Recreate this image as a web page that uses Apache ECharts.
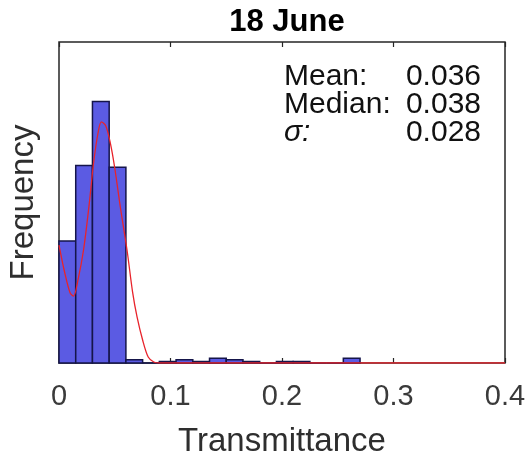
<!DOCTYPE html>
<html>
<head>
<meta charset="utf-8">
<script src="https://cdn.jsdelivr.net/npm/echarts@6/dist/echarts.min.js"></script>
<style>html,body{margin:0;padding:0;background:#fff;}#c{width:531px;height:459px;}</style>
</head>
<body>
<div id="c"></div>
<script>
// ---- data ----
var titleText = '18 June';
var xName = 'Transmittance';
var yName = 'Frequency';
var binWidth = 0.015;
var binLefts = [0, 0.015, 0.03, 0.045, 0.06, 0.075, 0.09, 0.105, 0.12, 0.135, 0.15, 0.165, 0.18, 0.195, 0.21, 0.225, 0.24, 0.255];
var binCounts = [76, 123, 163, 122, 2, 0, 1, 2, 1, 3, 2, 1, 0, 1, 1, 0, 0, 3];
var fitX = [0, 0.005, 0.010, 0.013, 0.017, 0.022, 0.027, 0.031, 0.035, 0.038, 0.042, 0.046, 0.050, 0.055, 0.061, 0.066, 0.070, 0.075, 0.080, 0.085, 0.090, 0.4];
var fitY = [73.5, 56.7, 43.6, 41.7, 51.7, 70.4, 98.4, 124.6, 143.3, 150.2, 147.7, 137.1, 121.5, 97.2, 70.4, 44.2, 28.7, 14.3, 3.7, 0.6, 0, 0];
var xTicks = [0, 0.1, 0.2, 0.3, 0.4];
var statLabels = ['Mean:', 'Median:', 'σ:'];
var statValues = ['0.036', '0.038', '0.028'];

var FONT = '"Liberation Sans", Arial, Helvetica, sans-serif';
var TXT = '#2e2e2e';

var barData = binLefts.map(function (l, i) { return [l, l + binWidth, binCounts[i]]; });
var fitData = fitX.map(function (x, i) { return [x, fitY[i]]; });

var chart = echarts.init(document.getElementById('c'), null, { renderer: 'canvas' });

var statGraphics = [];
statLabels.forEach(function (s, i) {
  statGraphics.push({
    type: 'text', x: 284, y: 77 + i * 28,
    style: { text: s, font: (i === 2 ? 'italic ' : '') + '30px ' + FONT, fill: '#111', verticalAlign: 'middle', align: 'left' }
  });
  statGraphics.push({
    type: 'text', x: 481, y: 77 + i * 28,
    style: { text: statValues[i], font: '30px ' + FONT, fill: '#111', verticalAlign: 'middle', align: 'right' }
  });
});

chart.setOption({
  animation: false,
  backgroundColor: '#fff',
  title: {
    text: titleText, left: 282, top: 2, textAlign: 'center',
    textStyle: { fontFamily: FONT, fontSize: 31, fontWeight: 'bold', color: '#000' }
  },
  grid: {
    left: 59, right: 26, top: 42, bottom: 96,
    outerBoundsMode: 'none', containLabel: false,
    show: true, borderColor: '#262626', borderWidth: 1.5, backgroundColor: 'transparent'
  },
  xAxis: [{
    type: 'value', min: 0, max: 0.4, interval: 0.1,
    name: xName, nameLocation: 'middle', nameGap: 62,
    nameTextStyle: { fontFamily: FONT, fontSize: 33, color: TXT },
    axisLine: { show: false },
    axisTick: { show: true, inside: true, length: 5, lineStyle: { color: '#262626', width: 1.2 } },
    splitLine: { show: false },
    axisLabel: {
      fontFamily: FONT, fontSize: 29, color: '#3a3a3a', margin: 19,
      formatter: function (v) { return xTicks.indexOf(Math.round(v * 10) / 10) >= 0 ? String(Math.round(v * 10) / 10) : ''; }
    }
  }, {
    type: 'value', min: 0, max: 0.4, interval: 0.1, position: 'top',
    axisLine: { show: false },
    axisTick: { show: true, inside: true, length: 5, lineStyle: { color: '#262626', width: 1.2 } },
    axisLabel: { show: false }, splitLine: { show: false }
  }],
  yAxis: {
    type: 'value', min: 0, max: 200,
    name: yName, nameLocation: 'middle', nameGap: 19,
    nameTextStyle: { fontFamily: FONT, fontSize: 33, color: TXT },
    axisLine: { show: false }, axisTick: { show: false },
    axisLabel: { show: false }, splitLine: { show: false }
  },
  graphic: statGraphics,
  series: [{
    type: 'custom',
    data: barData,
    renderItem: function (params, api) {
      var p0 = api.coord([api.value(0), 0]);
      var p1 = api.coord([api.value(1), api.value(2)]);
      return {
        type: 'rect',
        shape: { x: p0[0], y: p1[1], width: p1[0] - p0[0], height: p0[1] - p1[1] },
        style: { fill: '#5b5be3', stroke: '#15154a', lineWidth: 1.5 }
      };
    },
    encode: { x: [0, 1], y: 2 },
    z: 2
  }, {
    type: 'line',
    data: fitData,
    smooth: 0.3,
    showSymbol: false,
    lineStyle: { color: '#e8232b', width: 1.3 },
    z: 3
  }]
});
</script>
</body>
</html>
